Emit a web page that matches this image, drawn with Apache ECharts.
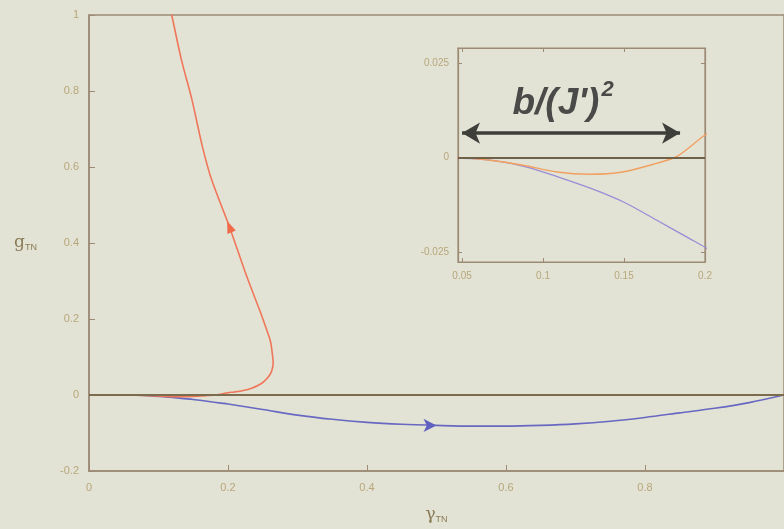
<!DOCTYPE html>
<html><head><meta charset="utf-8">
<script src="https://cdn.jsdelivr.net/npm/echarts@6/dist/echarts.min.js"></script>
<style>html,body{margin:0;padding:0;background:#e2e3d5}#c{width:784px;height:529px}</style>
</head><body><div id="c"></div>
<script>
// gamma_TN vs g_TN trajectories
const redPath = [[0,0],[0.0475,0],[0.0673,-0.0007],[0.0877,-0.002],[0.1086,-0.0038],[0.129,-0.0044],[0.149,-0.0038],[0.17,-0.0015],[0.183,0.0004],[0.2,0.006],[0.209,0.008],[0.222,0.012],[0.234,0.018],[0.245,0.027],[0.252,0.036],[0.259,0.05],[0.263,0.064],[0.265,0.085],[0.264,0.105],[0.261,0.142],[0.254,0.18],[0.246,0.221],[0.228,0.307],[0.202,0.443],[0.176,0.569],[0.163,0.655],[0.148,0.778],[0.133,0.882],[0.119,1.0],[0.115,1.03]];
const bluePath = [[0,0],[0.05,-0.0002],[0.07,-0.0008],[0.09,-0.0025],[0.11,-0.0052],[0.13,-0.0082],[0.15,-0.0118],[0.17,-0.0165],[0.19,-0.0213],[0.2,-0.0237],[0.25,-0.038],[0.3,-0.053],[0.35,-0.064],[0.4,-0.072],[0.45,-0.077],[0.5,-0.08],[0.55,-0.082],[0.6,-0.082],[0.65,-0.08],[0.7,-0.076],[0.75,-0.069],[0.8,-0.059],[0.85,-0.047],[0.9,-0.035],[0.95,-0.02],[1.0,0]];
const zeroLevel = 0;
const redArrowAt = [0.202, 0.443];
const blueArrowAt = [0.5, -0.08];
const insetXTicks = [0.05, 0.1, 0.15, 0.2];
const insetYTicks = [-0.025, 0, 0.025];
const spanArrow = [[0.05, 0.0065], [0.1846, 0.0065]];
const spanLabel = "b/(J')";

const axisCol = '#9c8a74';
const tickLabCol = '#b8a67a';
const chart = echarts.init(document.getElementById('c'), null, {renderer: 'canvas'});
const insetAxisCommon = {
  axisLine: {show: true, onZero: false, lineStyle: {color: axisCol, width: 1.2}},
  splitLine: {show: false}
};
chart.setOption({
  backgroundColor: '#e2e3d5',
  animation: false,
  grid: [
    {left: 89, top: 15, right: -3, bottom: 55, show: true, borderColor: axisCol, borderWidth: 1.5, backgroundColor: 'transparent'},
    {left: 458, top: 48, width: 247, height: 214, show: true, borderColor: axisCol, borderWidth: 1.2, backgroundColor: 'transparent'}
  ],
  xAxis: [
    {gridIndex: 0, type: 'value', min: 0, max: 1, interval: 0.2,
     axisLine: {show: true, onZero: false, lineStyle: {color: axisCol, width: 1.5}},
     axisTick: {show: true, inside: true, length: 6, lineStyle: {color: axisCol}},
     axisLabel: {color: tickLabCol, fontSize: 11, margin: 11, showMaxLabel: false, fontFamily: 'Liberation Sans'},
     splitLine: {show: false},
     name: '{m|γ}{s|TN}', nameLocation: 'middle', nameGap: 34,
     nameTextStyle: {rich: {m: {fontSize: 17, color: '#8a7a55', fontFamily: 'DejaVu Serif'}, s: {fontSize: 9, color: '#8a7a55', padding: [10, 0, 0, 0]}}}},
    Object.assign({gridIndex: 1, type: 'value', min: 0.0475, max: 0.2,
     axisTick: {show: true, inside: true, length: 4, customValues: insetXTicks, lineStyle: {color: axisCol}},
     axisLabel: {color: tickLabCol, fontSize: 10, margin: 9, customValues: insetXTicks, fontFamily: 'Liberation Sans'}}, insetAxisCommon),
    Object.assign({gridIndex: 1, type: 'value', position: 'top', min: 0.0475, max: 0.2,
     axisTick: {show: true, inside: true, length: 4, customValues: insetXTicks, lineStyle: {color: axisCol}},
     axisLabel: {show: false}}, insetAxisCommon)
  ],
  yAxis: [
    {gridIndex: 0, type: 'value', min: -0.2, max: 1, interval: 0.2,
     axisLine: {show: true, onZero: false, lineStyle: {color: axisCol, width: 1.5}},
     axisTick: {show: true, inside: true, length: 6, lineStyle: {color: axisCol}},
     axisLabel: {color: tickLabCol, fontSize: 11, margin: 10, fontFamily: 'Liberation Sans'},
     splitLine: {show: false},
     name: '{m|g}{s|TN}', nameLocation: 'middle', nameGap: 52, nameRotate: 0,
     nameTextStyle: {rich: {m: {fontSize: 17, color: '#8a7a55', fontFamily: 'DejaVu Serif'}, s: {fontSize: 9, color: '#8a7a55', padding: [10, 0, 0, 0]}}}},
    Object.assign({gridIndex: 1, type: 'value', min: -0.0276, max: 0.029,
     axisTick: {show: true, inside: true, length: 4, customValues: insetYTicks, lineStyle: {color: axisCol}},
     axisLabel: {color: tickLabCol, fontSize: 10, margin: 9, customValues: insetYTicks, fontFamily: 'Liberation Sans'}}, insetAxisCommon),
    Object.assign({gridIndex: 1, type: 'value', position: 'right', min: -0.0276, max: 0.029,
     axisTick: {show: true, inside: true, length: 4, customValues: insetYTicks, lineStyle: {color: axisCol}},
     axisLabel: {show: false}}, insetAxisCommon)
  ],
  series: [
    {type: 'line', xAxisIndex: 0, yAxisIndex: 0, data: bluePath, showSymbol: false, smooth: 0.3,
     lineStyle: {color: '#6868c2', width: 1.6}, itemStyle: {color: '#6868c2'}, z: 3,
     markLine: {silent: true, symbol: 'none', label: {show: false}, lineStyle: {color: '#7a6c4c', width: 2, type: 'solid'}, data: [{yAxis: zeroLevel}]},
     markPoint: {silent: true, symbol: 'arrow', symbolSize: [10, 13], symbolRotate: -90, itemStyle: {color: '#6060c0'}, label: {show: false}, data: [{coord: blueArrowAt}]}},
    {type: 'line', xAxisIndex: 0, yAxisIndex: 0, data: redPath, showSymbol: false, smooth: 0.3,
     lineStyle: {color: '#f0765a', width: 1.6}, itemStyle: {color: '#f0765a'}, z: 4,
     markPoint: {silent: true, symbol: 'triangle', symbolSize: [9, 12], symbolRotate: 22, itemStyle: {color: '#f06a4a'}, label: {show: false}, data: [{coord: redArrowAt}]}},
    {type: 'line', xAxisIndex: 1, yAxisIndex: 1, data: bluePath, showSymbol: false, smooth: 0.3,
     lineStyle: {color: '#9a8cd6', width: 1.3}, z: 3,
     markLine: {silent: true, symbol: 'none', label: {show: false}, lineStyle: {color: '#6f6048', width: 1.8, type: 'solid'}, data: [{yAxis: zeroLevel}]}},
    {type: 'line', xAxisIndex: 1, yAxisIndex: 1, data: redPath, showSymbol: false, smooth: 0.3,
     lineStyle: {color: '#f2a060', width: 1.4}, z: 4,
     markLine: {silent: true, symbol: ['arrow', 'arrow'], symbolSize: [16, 18],
       lineStyle: {color: '#3e3e3a', width: 3.5, type: 'solid'},
       label: {show: true, position: 'middle', distance: 4, formatter: '{t|' + spanLabel + '}{s|2}',
         rich: {t: {fontSize: 37, fontStyle: 'italic', fontWeight: 'bold', color: '#4a4a48', fontFamily: 'Liberation Sans', padding: [0, 0, 0, 0]},
                s: {fontSize: 22, fontStyle: 'italic', fontWeight: 'bold', color: '#4a4a48', fontFamily: 'Liberation Sans', padding: [0, 16, 28, 2]}}},
       data: [[{coord: spanArrow[0]}, {coord: spanArrow[1]}]]}}
  ]
});
</script></body></html>
